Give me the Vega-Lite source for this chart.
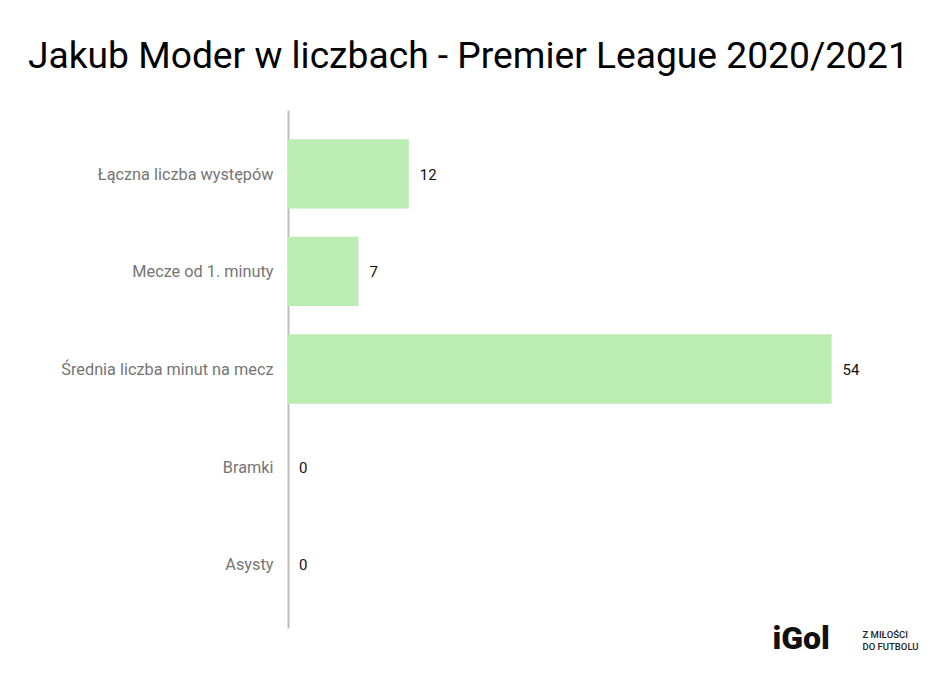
{
  "$schema": "https://vega.github.io/schema/vega-lite/v6.json",
  "autosize": {"type": "none"},
  "width": 604,
  "height": 518,
  "padding": {"left": 288, "top": 110, "right": 44, "bottom": 60},
  "background": "white",
  "config": {"view": {"stroke": null}, "font": "Roboto"},
  "title": {
    "text": "Jakub Moder w liczbach - Premier League 2020/2021",
    "anchor": "start",
    "frame": "group",
    "font": "Roboto",
    "fontSize": 37.2,
    "fontWeight": "normal",
    "color": "#000000",
    "baseline": "alphabetic",
    "dx": -260,
    "dy": -1
  },
  "data": {
    "values": [
      {"kategoria": "Łączna liczba występów", "wartosc": 12},
      {"kategoria": "Mecze od 1. minuty", "wartosc": 7},
      {"kategoria": "Średnia liczba minut na mecz", "wartosc": 54},
      {"kategoria": "Bramki", "wartosc": 0},
      {"kategoria": "Asysty", "wartosc": 0}
    ]
  },
  "encoding": {
    "y": {
      "field": "kategoria",
      "type": "nominal",
      "sort": null,
      "scale": {"paddingInner": 0.29, "paddingOuter": 0.3},
      "axis": {
        "title": null,
        "domain": true,
        "domainColor": "#bdbdbd",
        "domainWidth": 2,
        "ticks": false,
        "grid": false,
        "labelFont": "Roboto",
        "labelFontSize": 16.3,
        "labelColor": "#757575",
        "labelPadding": 15,
        "labelLimit": 300,
        "labelOffset": 1
      }
    }
  },
  "layer": [
    {
      "mark": {"type": "bar", "color": "#bbedb3"},
      "encoding": {
        "x": {
          "field": "wartosc",
          "type": "quantitative",
          "scale": {"domain": [0, 60]},
          "axis": {
            "orient": "bottom",
            "domain": false,
            "ticks": false,
            "labels": false,
            "grid": false,
            "title": "iGol",
            "titleFont": "Roboto",
            "titleFontSize": 32,
            "titleFontWeight": 900,
            "titleColor": "#111111",
            "titleAlign": "left",
            "titleAnchor": "start",
            "titleBaseline": "alphabetic",
            "titleX": 484,
            "titleY": 20
          }
        }
      }
    },
    {
      "mark": {"type": "text", "align": "left", "baseline": "middle", "dx": 11, "dy": 1, "fontSize": 15, "font": "Roboto", "color": "#111111"},
      "encoding": {
        "x": {
          "field": "wartosc",
          "type": "quantitative",
          "scale": {"domain": [0, 60]},
          "axis": {
            "orient": "bottom",
            "domain": false,
            "ticks": false,
            "labels": false,
            "grid": false,
            "title": ["Z MIŁOŚCI", "DO FUTBOLU"],
            "titleFont": "Roboto",
            "titleFontSize": 9.5,
            "titleFontWeight": 500,
            "titleColor": "#222222",
            "titleAlign": "left",
            "titleAnchor": "start",
            "titleBaseline": "alphabetic",
            "titleLineHeight": 12,
            "titleX": 574,
            "titleY": 9
          }
        },
        "text": {"field": "wartosc", "type": "quantitative"}
      }
    }
  ],
  "resolve": {"axis": {"x": "independent"}}
}
